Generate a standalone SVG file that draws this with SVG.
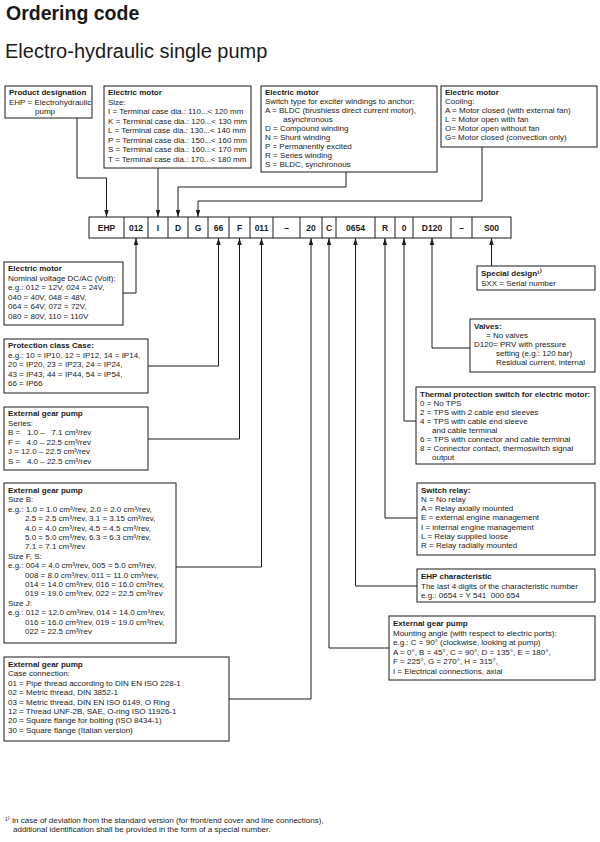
<svg xmlns="http://www.w3.org/2000/svg" width="600" height="842" viewBox="0 0 600 842">
<style>
text{font-family:"Liberation Sans",Arial,sans-serif;font-size:8px;fill:#1a1a1a}
.b{font-weight:bold}
.h1{font-size:19.5px;font-weight:bold}
.h2{font-size:20px}
.code{font-size:8.5px;font-weight:bold;text-anchor:middle}
.box{fill:#fff;stroke:#1a1a1a;stroke-width:1}
.c{fill:none;stroke:#1a1a1a;stroke-width:1;marker-end:url(#a)}
</style>
<defs>
<marker id="a" markerUnits="userSpaceOnUse" markerWidth="8" markerHeight="6" refX="7" refY="2.2" orient="auto"><path d="M0,0L7,2.2L0,4.4z" fill="#1a1a1a"/></marker>
</defs>
<rect width="600" height="842" fill="#fff"/>
<text class="h1" x="6" y="20">Ordering code</text>
<text class="h2" x="5" y="58">Electro-hydraulic single pump</text>

<g id="connectors">
<path class="c" d="M77,118V178H106.5V217"/>
<path class="c" d="M158,168V217"/>
<path class="c" d="M346,172V187H178V217"/>
<path class="c" d="M482,147V201H198V217"/>
<path class="c" d="M123,293H136V238"/>
<path class="c" d="M148,366H218.5V238"/>
<path class="c" d="M148,439H239.5V238"/>
<path class="c" d="M176,567H261.5V238"/>
<path class="c" d="M229,699H311V238"/>
<path class="c" d="M389,648H329V238"/>
<path class="c" d="M417,586H355.5V238"/>
<path class="c" d="M417,518H385V238"/>
<path class="c" d="M416,421H404V238"/>
<path class="c" d="M470,348H432V238"/>
<path class="c" d="M491.5,266V238"/>
</g>

<g id="code-row">
<rect class="box" x="89" y="217" width="422" height="21"/>
<path d="M124,217V238M148,217V238M168,217V238M188,217V238M208,217V238M229,217V238M250,217V238M273,217V238M300,217V238M322,217V238M336,217V238M375,217V238M395,217V238M413,217V238M451,217V238M472,217V238" stroke="#1a1a1a" stroke-width="1"/>
<text class="code" x="106.5" y="231">EHP</text>
<text class="code" x="136" y="231">012</text>
<text class="code" x="158" y="231">I</text>
<text class="code" x="178" y="231">D</text>
<text class="code" x="198" y="231">G</text>
<text class="code" x="218.5" y="231">66</text>
<text class="code" x="239.5" y="231">F</text>
<text class="code" x="261.5" y="231">011</text>
<text class="code" x="286.5" y="231">–</text>
<text class="code" x="311" y="231">20</text>
<text class="code" x="329" y="231">C</text>
<text class="code" x="355.5" y="231">0654</text>
<text class="code" x="385" y="231">R</text>
<text class="code" x="404" y="231">0</text>
<text class="code" x="432" y="231">D120</text>
<text class="code" x="461.5" y="231">–</text>
<text class="code" x="491.5" y="231">S00</text>
</g>

<g id="product">
<rect class="box" x="5" y="86" width="87" height="32"/>
<text class="b" x="9" y="95">Product designation</text>
<text x="9" y="104.5">EHP = Electrohydraulic</text>
<text x="35" y="114">pump</text>
</g>

<g id="motor-size">
<rect class="box" x="104" y="86" width="147" height="82"/>
<text class="b" x="108" y="95">Electric motor</text>
<text x="108" y="104.5">Size:</text>
<text x="108" y="114">I = Terminal case dia.: 110...&lt; 120 mm</text>
<text x="108" y="123.5">K = Terminal case dia.: 120...&lt; 130 mm</text>
<text x="108" y="133">L = Terminal case dia.: 130...&lt; 140 mm</text>
<text x="108" y="142.5">P = Terminal case dia.: 150...&lt; 160 mm</text>
<text x="108" y="152">S = Terminal case dia.: 160...&lt; 170 mm</text>
<text x="108" y="161.5">T = Terminal case dia.: 170...&lt; 180 mm</text>
</g>

<g id="motor-switch">
<rect class="box" x="261" y="86" width="176" height="86"/>
<text class="b" x="265" y="95">Electric motor</text>
<text x="265" y="104">Switch type for exciter windings to anchor:</text>
<text x="265" y="113">A = BLDC (brushless direct current motor),</text>
<text x="283" y="122">asynchronous</text>
<text x="265" y="131">D = Compound winding</text>
<text x="265" y="140">N = Shunt winding</text>
<text x="265" y="149">P = Permanently excited</text>
<text x="265" y="158">R = Series winding</text>
<text x="265" y="167">S = BLDC, synchronous</text>
</g>

<g id="motor-cooling">
<rect class="box" x="441" y="86" width="156" height="61"/>
<text class="b" x="445" y="95">Electric motor</text>
<text x="445" y="104">Cooling:</text>
<text x="445" y="113">A = Motor closed (with external fan)</text>
<text x="445" y="122">L = Motor open with fan</text>
<text x="445" y="131">O= Motor open without fan</text>
<text x="445" y="140">G= Motor closed (convection only)</text>
</g>

<g id="voltage">
<rect class="box" x="4" y="262" width="119" height="63"/>
<text class="b" x="8" y="271">Electric motor</text>
<text x="8" y="280.5">Nominal voltage DC/AC (Volt):</text>
<text x="8" y="290">e.g.: 012 = 12V, 024 = 24V,</text>
<text x="8" y="299.5">040 = 40V, 048 = 48V,</text>
<text x="8" y="309">064 = 64V, 072 = 72V,</text>
<text x="8" y="318.5">080 = 80V, 110 = 110V</text>
</g>

<g id="protection">
<rect class="box" x="4" y="339" width="144" height="54"/>
<text class="b" x="8" y="348">Protection class Case:</text>
<text x="8" y="357.5">e.g.: 10 = IP10, 12 = IP12, 14 = IP14,</text>
<text x="8" y="367">20 = IP20, 23 = IP23, 24 = IP24,</text>
<text x="8" y="376.5">43 = IP43, 44 = IP44, 54 = IP54,</text>
<text x="8" y="386">66 = IP66</text>
</g>

<g id="series">
<rect class="box" x="4" y="407" width="144" height="63"/>
<text class="b" x="8" y="416">External gear pump</text>
<text x="8" y="425.5">Series:</text>
<text x="8" y="435" xml:space="preserve">B =   1.0 –   7.1 cm³/rev</text>
<text x="8" y="444.5" xml:space="preserve">F =   4.0 – 22.5 cm³/rev</text>
<text x="8" y="454" xml:space="preserve">J = 12.0 – 22.5 cm³/rev</text>
<text x="8" y="463.5" xml:space="preserve">S =   4.0 – 22.5 cm³/rev</text>
</g>

<g id="size">
<rect class="box" x="4" y="483" width="172" height="160"/>
<text class="b" x="8" y="493">External gear pump</text>
<text x="8" y="502.4">Size B:</text>
<text x="8" y="511.8">e.g.: 1.0 = 1.0 cm³/rev, 2.0 = 2.0 cm³/rev,</text>
<text x="25" y="521.2">2.5 = 2.5 cm³/rev, 3.1 = 3.15 cm³/rev,</text>
<text x="25" y="530.6">4.0 = 4.0 cm³/rev, 4.5 = 4.5 cm³/rev,</text>
<text x="25" y="540">5.0 = 5.0 cm³/rev, 6.3 = 6.3 cm³/rev,</text>
<text x="25" y="549.4">7.1 = 7.1 cm³/rev</text>
<text x="8" y="558.8">Size F, S:</text>
<text x="8" y="568.2">e.g.: 004 = 4.0 cm³/rev, 005 = 5.0 cm³/rev,</text>
<text x="25" y="577.6">008 = 8.0 cm³/rev, 011 = 11.0 cm³/rev,</text>
<text x="25" y="587">014 = 14.0 cm³/rev, 016 = 16.0 cm³/rev,</text>
<text x="25" y="596.4">019 = 19.0 cm³/rev, 022 = 22.5 cm³/rev</text>
<text x="8" y="605.8">Size J:</text>
<text x="8" y="615.2">e.g.: 012 = 12.0 cm³/rev, 014 = 14.0 cm³/rev,</text>
<text x="25" y="624.6">016 = 16.0 cm³/rev, 019 = 19.0 cm³/rev,</text>
<text x="25" y="634">022 = 22.5 cm³/rev</text>
</g>

<g id="case-connection">
<rect class="box" x="4" y="657" width="225" height="84"/>
<text class="b" x="8" y="667">External gear pump</text>
<text x="8" y="676.4">Case connection:</text>
<text x="8" y="685.8">01 = Pipe thread according to DIN EN ISO 228-1</text>
<text x="8" y="695.2">02 = Metric thread, DIN 3852-1</text>
<text x="8" y="704.6">03 = Metric thread, DIN EN ISO 6149, O Ring</text>
<text x="8" y="714">12 = Thread UNF-2B, SAE, O-ring ISO 11926-1</text>
<text x="8" y="723.4">20 = Square flange for bolting (ISO 8434-1)</text>
<text x="8" y="732.8">30 = Square flange (Italian version)</text>
</g>

<g id="special">
<rect class="box" x="477" y="266" width="118" height="24"/>
<text class="b" x="481" y="276">Special design¹⁾</text>
<text x="481" y="285.5">SXX = Serial number</text>
</g>

<g id="valves">
<rect class="box" x="470" y="319" width="125" height="53"/>
<text class="b" x="474" y="329">Valves:</text>
<text x="486" y="338">= No valves</text>
<text x="474" y="347">D120= PRV with pressure</text>
<text x="496" y="356">setting (e.g.: 120 bar)</text>
<text x="496" y="365">Residual current, internal</text>
</g>

<g id="thermal">
<rect class="box" x="416" y="387" width="179" height="77"/>
<text class="b" x="420" y="396.5">Thermal protection switch for electric motor:</text>
<text x="420" y="405.5">0 = No TPS</text>
<text x="420" y="414.5">2 = TPS with 2 cable end sleeves</text>
<text x="420" y="423.5">4 = TPS with cable end sleeve</text>
<text x="432" y="432.5">and cable terminal</text>
<text x="420" y="441.5">6 = TPS with connector and cable terminal</text>
<text x="420" y="450.5">8 = Connector contact, thermoswitch signal</text>
<text x="432" y="459.5">output</text>
</g>

<g id="relay">
<rect class="box" x="417" y="483" width="178" height="72"/>
<text class="b" x="421" y="492.5">Switch relay:</text>
<text x="421" y="501.8">N = No relay</text>
<text x="421" y="511.1">A = Relay axially mounted</text>
<text x="421" y="520.4">E = external engine management</text>
<text x="421" y="529.7">I = internal engine management</text>
<text x="421" y="539">L = Relay supplied loose</text>
<text x="421" y="548.3">R = Relay radially mounted</text>
</g>

<g id="characteristic">
<rect class="box" x="417" y="569" width="178" height="33"/>
<text class="b" x="421" y="579">EHP characteristic</text>
<text x="421" y="588.5">The last 4 digits of the characteristic number</text>
<text x="421" y="598" xml:space="preserve">e.g.: 0654 = Y 541  000 654</text>
</g>

<g id="mounting">
<rect class="box" x="389" y="616" width="206" height="64"/>
<text class="b" x="393" y="626">External gear pump</text>
<text x="393" y="635.5">Mounting angle (with respect to electric ports):</text>
<text x="393" y="645">e.g.: C = 90° (clockwise, looking at pump)</text>
<text x="393" y="654.5">A = 0°, B = 45°, C = 90°, D = 135°, E = 180°,</text>
<text x="393" y="664">F = 225°, G = 270°, H = 315°,</text>
<text x="393" y="673.5">I = Electrical connections, axial</text>
</g>

<g id="footnote">
<text x="5" y="823">¹⁾ In case of deviation from the standard version (for front/end cover and line connections),</text>
<text x="13" y="832">additional identification shall be provided in the form of a special number.</text>
</g>
</svg>
